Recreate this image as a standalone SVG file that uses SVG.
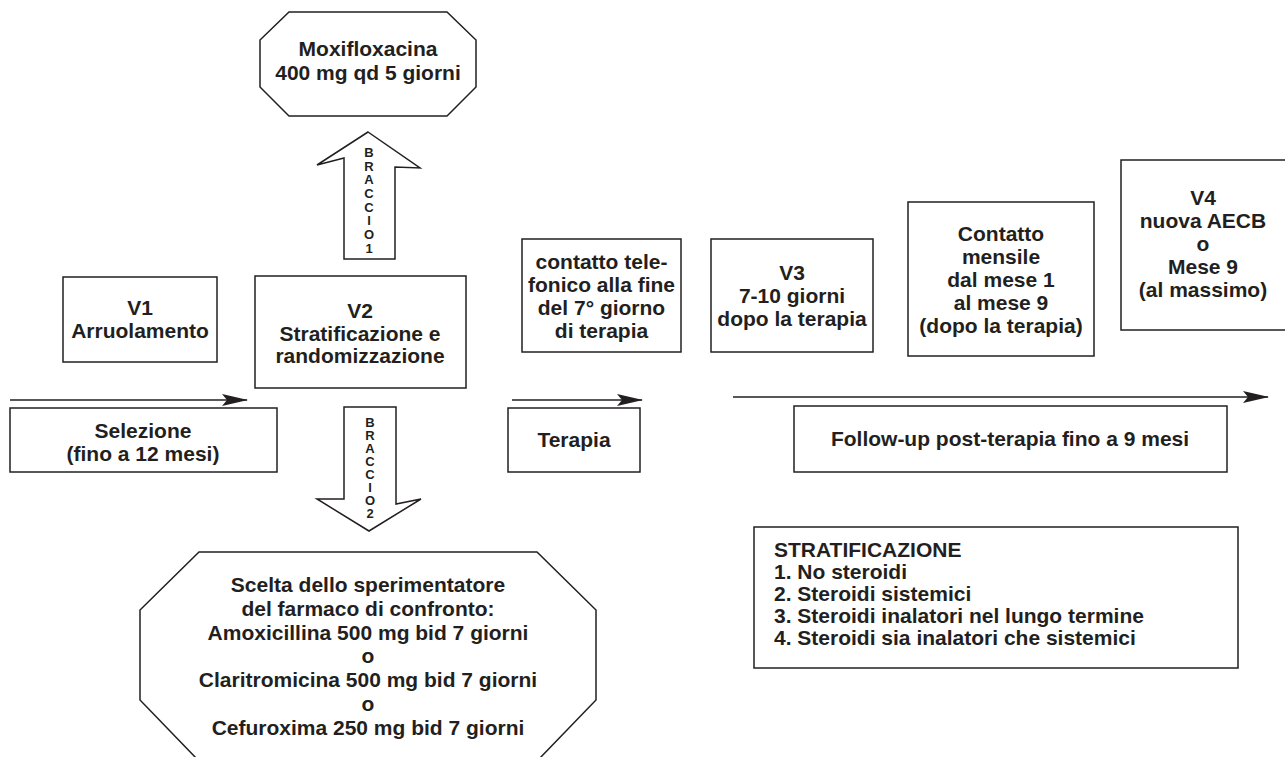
<svg xmlns="http://www.w3.org/2000/svg" width="1285" height="757" viewBox="0 0 1285 757">
<defs>
<style>
.s{fill:none;stroke:#231f20;stroke-width:1.5}
.w{fill:#fff;stroke:#231f20;stroke-width:1.5}
text{font-family:"Liberation Sans",Arial,sans-serif;font-weight:bold;fill:#231f20}
.t{font-size:21px;text-anchor:middle}
.c{font-size:21px;text-anchor:middle}
.l{font-size:13px;text-anchor:middle}
.st{font-size:21px}
</style>
<marker id="ah" viewBox="0 0 26 12" refX="25" refY="6" markerWidth="26" markerHeight="12" markerUnits="userSpaceOnUse" orient="auto">
<path d="M0,0 L26,6 L0,12 L5,6 Z" fill="#231f20"/>
</marker>
</defs>
<rect width="1285" height="757" fill="#fff"/>
<g id="connectors">
<line class="s" x1="10" y1="400" x2="247" y2="400" marker-end="url(#ah)"/>
<line class="s" x1="512" y1="400" x2="642" y2="400" marker-end="url(#ah)"/>
<line class="s" x1="733" y1="397" x2="1268" y2="397" marker-end="url(#ah)"/>
</g>
<g id="moxi">
<polygon class="w" points="289,12 447,12 476,40 476,87 447,116 289,116 260,87 260,40"/>
<text class="t" x="368" y="56">Moxifloxacina</text>
<text class="t" x="368" y="80">400 mg qd 5 giorni</text>
</g>
<g id="braccio1">
<path class="w" d="M368,132 L420,168 L395,167 V259 H344 V158 L317,165 Z"/>
<text class="l" x="369" y="157">B</text>
<text class="l" x="369" y="171">R</text>
<text class="l" x="369" y="184">A</text>
<text class="l" x="369" y="198">C</text>
<text class="l" x="369" y="212">C</text>
<text class="l" x="369" y="225">I</text>
<text class="l" x="369" y="239">O</text>
<text class="l" x="369" y="253">1</text>
</g>
<g id="v1">
<rect class="w" x="63" y="277" width="154" height="85"/>
<text class="t" x="140" y="315">V1</text>
<text class="t" x="140" y="338">Arruolamento</text>
</g>
<g id="v2">
<rect class="w" x="255" y="276" width="211" height="112"/>
<text class="t" x="360" y="318">V2</text>
<text class="t" x="360" y="341">Stratificazione e</text>
<text class="t" x="360" y="363">randomizzazione</text>
</g>
<g id="selezione">
<rect class="w" x="10" y="408" width="267" height="64"/>
<text class="t" x="143" y="438">Selezione</text>
<text class="t" x="143" y="461">(fino a 12 mesi)</text>
</g>
<g id="braccio2">
<path class="w" d="M344,407 H396 V504 L421,499 L369,531 L317,499 H344 Z"/>
<text class="l" x="370" y="427">B</text>
<text class="l" x="370" y="440">R</text>
<text class="l" x="370" y="453">A</text>
<text class="l" x="370" y="466">C</text>
<text class="l" x="370" y="479">C</text>
<text class="l" x="370" y="492">I</text>
<text class="l" x="370" y="505">O</text>
<text class="l" x="370" y="518">2</text>
</g>
<g id="confronto">
<polygon class="w" points="199,552 537,552 596,610 596,700 539,759 197,759 140,700 140,610"/>
<text class="t" x="368" y="592">Scelta dello sperimentatore</text>
<text class="t" x="368" y="616">del farmaco di confronto:</text>
<text class="t" x="368" y="640">Amoxicillina 500 mg bid 7 giorni</text>
<text class="t" x="368" y="663">o</text>
<text class="t" x="368" y="687">Claritromicina 500 mg bid 7 giorni</text>
<text class="t" x="368" y="711">o</text>
<text class="t" x="368" y="735">Cefuroxima 250 mg bid 7 giorni</text>
</g>
<g id="terapia">
<rect class="w" x="508" y="408" width="132" height="64"/>
<text class="t" x="574" y="447">Terapia</text>
</g>
<g id="contatto">
<rect class="w" x="522" y="239" width="159" height="113"/>
<text class="c" x="601.5" y="269">contatto tele-</text>
<text class="c" x="601.5" y="292">fonico alla fine</text>
<text class="c" x="601.5" y="315">del 7° giorno</text>
<text class="c" x="601.5" y="338">di terapia</text>
</g>
<g id="v3">
<rect class="w" x="711" y="239" width="162" height="113"/>
<text class="c" x="792" y="280">V3</text>
<text class="c" x="792" y="303">7-10 giorni</text>
<text class="c" x="792" y="326">dopo la terapia</text>
</g>
<g id="mensile">
<rect class="w" x="908" y="202" width="186" height="154"/>
<text class="c" x="1001" y="241">Contatto</text>
<text class="c" x="1001" y="264">mensile</text>
<text class="c" x="1001" y="287">dal mese 1</text>
<text class="c" x="1001" y="310">al mese 9</text>
<text class="c" x="1001" y="333">(dopo la terapia)</text>
</g>
<g id="v4">
<rect class="w" x="1121" y="160" width="170" height="170"/>
<text class="c" x="1203" y="205">V4</text>
<text class="c" x="1203" y="228">nuova AECB</text>
<text class="c" x="1203" y="251">o</text>
<text class="c" x="1203" y="274">Mese 9</text>
<text class="c" x="1203" y="297">(al massimo)</text>
</g>
<g id="followup">
<rect class="w" x="794" y="406" width="433" height="66"/>
<text class="t" x="1010" y="446">Follow-up post-terapia fino a 9 mesi</text>
</g>
<g id="stratificazione">
<rect class="w" x="754" y="527" width="484" height="141"/>
<text class="st" x="774" y="557">STRATIFICAZIONE</text>
<text class="st" x="774" y="579">1. No steroidi</text>
<text class="st" x="774" y="601">2. Steroidi sistemici</text>
<text class="st" x="774" y="623">3. Steroidi inalatori nel lungo termine</text>
<text class="st" x="774" y="645">4. Steroidi sia inalatori che sistemici</text>
</g>
</svg>
